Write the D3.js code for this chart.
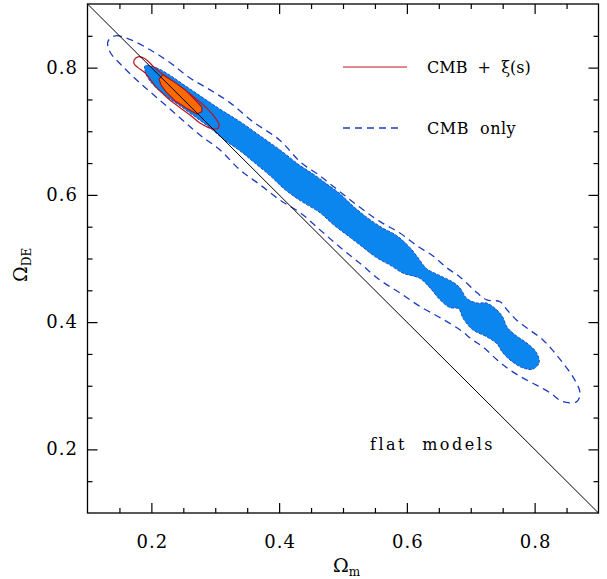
<!DOCTYPE html>
<meta charset="utf-8">
<script src="https://d3js.org/d3.v7.min.js"></script>
<style>
  body { margin: 0; background: #fff; }
  text { font-family: "DejaVu Serif", serif; fill: #000; }
  .axis path { display: none; }
  .axis line { stroke: #000; stroke-width: 1.2; }
  .axis text { display: none; }
</style>
<body>
<script>

// contour levels as (Omega_m, Omega_DE) pairs

// CMB only, outer contour (dashed)
var cmbOuterM  = [0.132,0.143,0.167,0.198,0.229,0.260,0.292,0.323,0.359,0.401,0.433,0.464,0.495,0.527,0.558,0.589,0.616,0.641,0.663,0.683,0.710,0.725,0.746,0.757,0.772,0.792,0.813,0.828,0.844,0.860,0.871,0.866,0.844,0.824,0.803,0.782,0.761,0.741,0.719,0.703,0.683,0.652,0.620,0.589,0.558,0.527,0.495,0.464,0.433,0.401,0.370,0.339,0.307,0.276,0.245,0.213,0.182,0.154,0.135];
var cmbOuterDE = [0.841,0.850,0.844,0.828,0.808,0.784,0.765,0.745,0.715,0.686,0.652,0.630,0.605,0.580,0.558,0.540,0.520,0.504,0.485,0.471,0.446,0.435,0.432,0.419,0.403,0.388,0.372,0.356,0.336,0.314,0.289,0.275,0.275,0.289,0.301,0.312,0.325,0.341,0.361,0.372,0.388,0.407,0.425,0.446,0.466,0.492,0.518,0.545,0.572,0.592,0.616,0.639,0.671,0.694,0.721,0.749,0.776,0.803,0.825];

// CMB only, inner contour (filled blue)
var cmbInnerM  = [0.190,0.207,0.226,0.248,0.276,0.307,0.339,0.370,0.401,0.433,0.456,0.475,0.495,0.515,0.537,0.562,0.584,0.605,0.617,0.631,0.652,0.672,0.683,0.694,0.710,0.725,0.741,0.750,0.757,0.772,0.788,0.803,0.807,0.797,0.782,0.766,0.750,0.741,0.725,0.703,0.688,0.681,0.667,0.652,0.636,0.620,0.594,0.573,0.553,0.527,0.506,0.484,0.464,0.433,0.406,0.386,0.362,0.339,0.315,0.292,0.268,0.245,0.221,0.201,0.192];
var cmbInnerDE = [0.803,0.800,0.790,0.775,0.756,0.735,0.715,0.693,0.671,0.646,0.631,0.617,0.602,0.583,0.565,0.548,0.536,0.517,0.502,0.484,0.473,0.463,0.454,0.437,0.430,0.430,0.419,0.408,0.392,0.378,0.367,0.352,0.336,0.326,0.328,0.337,0.352,0.366,0.377,0.388,0.406,0.421,0.423,0.435,0.454,0.469,0.477,0.490,0.501,0.521,0.537,0.554,0.572,0.591,0.611,0.630,0.650,0.669,0.686,0.705,0.723,0.740,0.757,0.775,0.789];

// CMB + xi(s), outer contour (red line)
var xiOuterM  = [0.173,0.179,0.190,0.201,0.213,0.229,0.245,0.260,0.276,0.289,0.300,0.306,0.303,0.292,0.276,0.260,0.245,0.229,0.217,0.206,0.198,0.190,0.179,0.173];
var xiOuterDE = [0.812,0.817,0.814,0.804,0.793,0.781,0.770,0.759,0.746,0.734,0.721,0.710,0.704,0.705,0.713,0.726,0.737,0.749,0.760,0.771,0.782,0.792,0.800,0.806];

// CMB + xi(s), inner contour (filled orange)
var xiInnerM  = [0.212,0.218,0.235,0.253,0.267,0.279,0.279,0.271,0.254,0.237,0.223,0.215];
var xiInnerDE = [0.782,0.789,0.778,0.765,0.751,0.738,0.731,0.727,0.737,0.748,0.762,0.773];

var flatM = [0.1, 0.9];          // Omega_DE = 1 - Omega_m
var majorTicks = [0.2, 0.4, 0.6, 0.8];
var minorTicks = [0.15,0.25,0.3,0.35,0.45,0.5,0.55,0.65,0.7,0.75,0.85];
var legendLabels = ["CMB + \u03be(s)", "CMB only"];

var width = 607, height = 579;
var plotL = 87.5, plotR = 598.5, plotT = 4, plotB = 513;

var x = d3.scaleLinear().domain([0.1, 0.9]).range([plotL, plotR]);
var y = d3.scaleLinear().domain([0.1, 0.9]).range([plotB, plotT]);

var svg = d3.select("body").append("svg")
    .attr("width", width)
    .attr("height", height);

function pairs(ms, des) { return ms.map(function(m, i) { return [m, des[i]]; }); }

var smooth = d3.line()
    .x(function(d) { return x(d[0]); })
    .y(function(d) { return y(d[1]); })
    .curve(d3.curveCatmullRomClosed.alpha(0.5));

var sharp = d3.line()
    .x(function(d) { return x(d[0]); })
    .y(function(d) { return y(d[1]); })
    .curve(d3.curveLinearClosed);

// blue filled 1-sigma CMB region
svg.append("path")
    .attr("d", smooth(pairs(cmbInnerM, cmbInnerDE)))
    .attr("fill", "#0a86ee")
    .attr("stroke", "#1f4fc4")
    .attr("stroke-width", 1)
    .attr("stroke-dasharray", "3,1.5");

// dashed 2-sigma CMB contour
svg.append("path")
    .attr("d", smooth(pairs(cmbOuterM, cmbOuterDE)))
    .attr("fill", "none")
    .attr("stroke", "#1c3cc0")
    .attr("stroke-width", 1.3)
    .attr("stroke-dasharray", "7,5");

// red outer CMB+xi contour
svg.append("path")
    .attr("d", smooth(pairs(xiOuterM, xiOuterDE)))
    .attr("fill", "none")
    .attr("stroke", "#c0141c")
    .attr("stroke-width", 1.2);

// orange inner CMB+xi contour
svg.append("path")
    .attr("d", sharp(pairs(xiInnerM, xiInnerDE)))
    .attr("fill", "#ff6a00")
    .attr("stroke", "#b0101a")
    .attr("stroke-width", 1.2);

// flat models line
svg.append("line")
    .attr("x1", x(flatM[0])).attr("y1", y(1 - flatM[0]))
    .attr("x2", x(flatM[1])).attr("y2", y(1 - flatM[1]))
    .attr("stroke", "#000")
    .attr("stroke-width", 1);

// ticks on all four sides, pointing inwards
function ticks(axisFn, scale, vals, size, tx, ty) {
  svg.append("g")
      .attr("class", "axis")
      .attr("transform", "translate(" + tx + "," + ty + ")")
      .call(axisFn(scale).tickValues(vals).tickSize(size).tickFormat(""));
}
ticks(d3.axisBottom, x, majorTicks, -10, 0, plotB);
ticks(d3.axisBottom, x, minorTicks, -5, 0, plotB);
ticks(d3.axisTop, x, majorTicks, -10, 0, plotT);
ticks(d3.axisTop, x, minorTicks, -5, 0, plotT);
ticks(d3.axisLeft, y, majorTicks, -10, plotL, 0);
ticks(d3.axisLeft, y, minorTicks, -5, plotL, 0);
ticks(d3.axisRight, y, majorTicks, -10, plotR, 0);
ticks(d3.axisRight, y, minorTicks, -5, plotR, 0);

// frame
svg.append("rect")
    .attr("x", plotL).attr("y", plotT)
    .attr("width", plotR - plotL).attr("height", plotB - plotT)
    .attr("fill", "none")
    .attr("stroke", "#000")
    .attr("stroke-width", 1.3);

// tick labels
svg.selectAll(".xl").data(majorTicks).enter().append("text")
    .attr("x", function(d) { return x(d) + 1; })
    .attr("y", 548)
    .attr("text-anchor", "middle")
    .style("font-size", "18px")
    .style("letter-spacing", "1px")
    .text(function(d) { return d.toFixed(1); });

svg.selectAll(".yl").data(majorTicks).enter().append("text")
    .attr("x", 78)
    .attr("y", function(d) { return y(d) + 6; })
    .attr("text-anchor", "end")
    .style("font-size", "18px")
    .style("letter-spacing", "1px")
    .text(function(d) { return d.toFixed(1); });

// axis titles
var xt = svg.append("text")
    .attr("x", 333).attr("y", 572)
    .style("font-size", "19px");
xt.append("tspan").text("\u03a9");
xt.append("tspan").attr("dy", 4).style("font-size", "12px").text("m");

var yt = svg.append("text")
    .attr("transform", "translate(27,282) rotate(-90)")
    .style("font-size", "19px");
yt.append("tspan").text("\u03a9");
yt.append("tspan").attr("dy", 4).style("font-size", "12px").text("DE");

// legend
svg.append("line")
    .attr("x1", 343).attr("x2", 407).attr("y1", 67).attr("y2", 67)
    .attr("stroke", "#c0141c").attr("stroke-width", 1.2);
svg.append("line")
    .attr("x1", 343).attr("x2", 402).attr("y1", 128).attr("y2", 128)
    .attr("stroke", "#1c3cc0").attr("stroke-width", 1.3)
    .attr("stroke-dasharray", "7,5");

svg.append("text")
    .attr("x", 427).attr("y", 73)
    .style("font-size", "16px")
    .style("white-space", "pre")
    .text(legendLabels[0].replace(" + ", "  +  "));
svg.append("text")
    .attr("x", 427).attr("y", 134)
    .style("font-size", "16px")
    .style("letter-spacing", "0.5px")
    .style("white-space", "pre")
    .text(legendLabels[1].replace(" ", "  "));

svg.append("text")
    .attr("x", 370).attr("y", 450)
    .style("font-size", "16px")
    .style("letter-spacing", "2.5px")
    .style("white-space", "pre")
    .text("flat  models");

</script>
</body>
